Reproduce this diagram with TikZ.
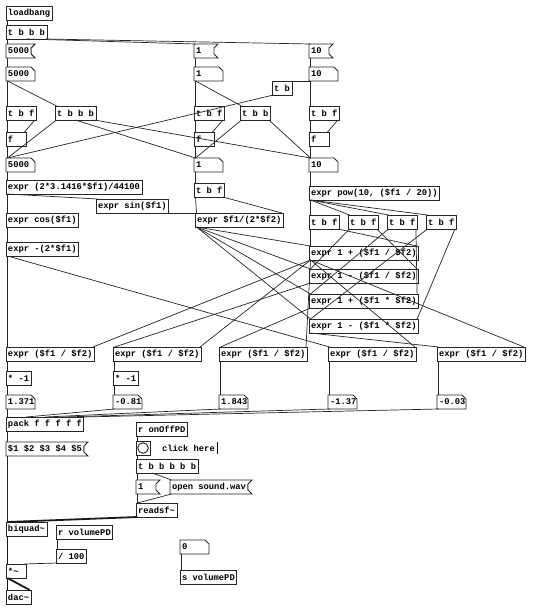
\documentclass[tikz,border=0pt]{standalone}
\usepackage{fontspec}
\newfontfamily\pdfont{Liberation Mono}
\usetikzlibrary{calc}
\tikzset{
 base/.style={anchor=north west, font=\pdfont\bfseries\fontsize{8.8}{10}\selectfont, inner xsep=2pt, inner ysep=0pt, minimum height=14pt, minimum width=20pt, outer sep=0pt},
 obj/.style={base, draw=black!85, line width=0.9pt},
 short/.style={execute at begin node={\hbox to 16pt\bgroup}, execute at end node={\hfil\egroup}},
 atom/.style={base, execute at begin node={\hbox to 25pt\bgroup}, execute at end node={\hss\egroup}},
 outline/.style={draw=black!85, line width=0.9pt},
 wire/.style={draw=black!85, line width=0.7pt},
 sig/.style={draw=black!90, line width=1.8pt},
}
\newcommand\pdmsg[4][]{\node[base,#1] (#2) at (#3) {#4};
 \draw[outline] (#2.north west) -- ([xshift=4pt]#2.north east) -- ([yshift=-4pt]#2.north east) -- ([yshift=4pt]#2.south east) -- ([xshift=4pt]#2.south east) -- (#2.south west) -- cycle;}
\newcommand\pdatom[3]{\node[atom] (#1) at (#2) {#3};
 \draw[outline] (#1.north west) -- ([xshift=-4pt]#1.north east) -- ([yshift=-4pt]#1.north east) -- (#1.south east) -- (#1.south west) -- cycle;}
\newcommand\pw[5][wire]{\draw[#1] ($([xshift=1.5pt]#2.south west)!#3!([xshift=-1.5pt]#2.south east)$) -- ($([xshift=1.5pt]#4.north west)!#5!([xshift=-1.5pt]#4.north east)$);}
\begin{document}
\begin{tikzpicture}[x=1pt,y=-1pt]
\useasboundingbox[fill=white] (0,0) rectangle (540,608);
% top section
\node[obj] (lb) at (6,6) {loadbang};
\node[obj] (tbbbA) at (6,25) {t b b b};
\pdmsg{mA}{6,44}{5000}
\pdmsg[short]{mB}{194,44}{1}
\pdmsg[short]{mC}{309,44}{10}
\pdatom{nA}{6,67}{5000}
\pdatom{nB}{194,67}{1}
\pdatom{nC}{309,67}{10}
\node[obj,short] (tb) at (272,81) {t b};
\node[obj] (tbfA) at (6,106) {t b f};
\node[obj] (tbbbB) at (55,106) {t b b b};
\node[obj] (tbfB) at (194,106) {t b f};
\node[obj] (tbb) at (240,106) {t b b};
\node[obj] (tbfC) at (309,106) {t b f};
\node[obj,short] (fA) at (6,132) {f};
\node[obj,short] (fB) at (194,132) {f};
\node[obj,short] (fC) at (309,132) {f};
\pdatom{oA}{6,158}{5000}
\pdatom{oB}{194,158}{1}
\pdatom{oC}{309,158}{10}
% coefficient section
\node[obj] (ew) at (6,180) {expr (2*3.1416*\$f1)/44100};
\node[obj] (tbfD) at (194,183) {t b f};
\node[obj] (epow) at (309,186) {expr pow(10, (\$f1 / 20))};
\node[obj] (esin) at (96,199) {expr sin(\$f1)};
\node[obj] (ecos) at (6,213) {expr cos(\$f1)};
\node[obj] (ealpha) at (195,213) {expr \$f1/(2*\$f2)};
\node[obj] (tA) at (309,215) {t b f};
\node[obj] (tB) at (348,215) {t b f};
\node[obj] (tC) at (387,215) {t b f};
\node[obj] (tD) at (426,215) {t b f};
\node[obj] (eneg) at (6,242) {expr -(2*\$f1)};
\node[obj] (eA) at (309,246) {expr 1 + (\$f1 / \$f2)};
\node[obj] (eB) at (309,269) {expr 1 - (\$f1 / \$f2)};
\node[obj] (eC) at (309,294) {expr 1 + (\$f1 * \$f2)};
\node[obj] (eD) at (309,319) {expr 1 - (\$f1 * \$f2)};
\node[obj] (dA) at (6,347) {expr (\$f1 / \$f2)};
\node[obj] (dB) at (113,347) {expr (\$f1 / \$f2)};
\node[obj] (dC) at (219,347) {expr (\$f1 / \$f2)};
\node[obj] (dD) at (328,347) {expr (\$f1 / \$f2)};
\node[obj] (dE) at (437,347) {expr (\$f1 / \$f2)};
\node[obj] (mulA) at (6,371) {* -1};
\node[obj] (mulB) at (113,371) {* -1};
\pdatom{vA}{6,395}{1.371}
\pdatom{vB}{113,395}{-0.81}
\pdatom{vC}{219,395}{1.843}
\pdatom{vD}{328,395}{-1.37}
\pdatom{vE}{437,395}{-0.03}
% audio section
\node[obj] (pack) at (6,417) {pack f f f f f};
\pdmsg{plist}{6,442}{\$1 \$2 \$3 \$4 \$5}
\node[obj] (ronoff) at (136,422) {r onOffPD};
\node[obj, minimum width=14pt, minimum height=14pt, inner sep=0pt] (bng) at (136,441) {};
\draw[outline] (bng.center) circle (5.3pt);
\node[base, anchor=west] (cmt) at (160,448) {click here};
\coordinate (barA) at (217,442); \coordinate (barB) at (217,454);
\draw[line width=0.8pt] (barA) -- (barB);
\node[obj] (tbsix) at (136,459) {t b b b b b};
\pdmsg[short]{mone}{136,480}{1}
\pdmsg{mopen}{170,480}{open sound.wav}
\node[obj] (readsf) at (136,503) {readsf\textasciitilde};
\node[obj] (biquad) at (6,522) {biquad\textasciitilde};
\node[obj] (rvol) at (56,525) {r volumePD};
\node[obj] (div) at (56,549) {/ 100};
\pdatom{nzero}{180,540}{0}
\node[obj] (svol) at (180,570) {s volumePD};
\node[obj,short] (mulsig) at (6,564) {*\textasciitilde};
\node[obj] (dac) at (6,590) {dac\textasciitilde};
% wires
\pw{lb}{0}{tbbbA}{0}
\pw{tbbbA}{0}{mA}{0}
\pw{tbbbA}{.5}{mB}{0}
\pw{tbbbA}{1}{mC}{0}
\pw{mA}{0}{nA}{0}
\pw{mB}{0}{nB}{0}
\pw{mC}{0}{nC}{0}
\pw{nA}{0}{tbfA}{0}
\pw{nA}{0}{tbbbB}{0}
\pw{nB}{0}{tbfB}{0}
\pw{nB}{0}{tbb}{0}
\pw{nC}{0}{tbfC}{0}
\pw{nC}{0}{tb}{0}
\pw{tb}{0}{oA}{0}
\pw{tbfA}{0}{fA}{0}
\pw{tbfA}{1}{fA}{1}
\pw{tbfB}{0}{fB}{0}
\pw{tbfB}{1}{fB}{1}
\pw{tbfC}{0}{fC}{0}
\pw{tbfC}{1}{fC}{1}
\pw{fA}{0}{oA}{0}
\pw{fB}{0}{oB}{0}
\pw{fC}{0}{oC}{0}
\pw{tbbbB}{0}{oA}{0}
\pw{tbbbB}{.5}{oB}{0}
\pw{tbbbB}{1}{oC}{0}
\pw{tbb}{0}{oB}{0}
\pw{tbb}{1}{oC}{0}
\pw{oA}{0}{ew}{0}
\pw{oB}{0}{tbfD}{0}
\pw{oC}{0}{epow}{0}
\pw{ew}{0}{ecos}{0}
\pw{ew}{0}{esin}{0}
\pw{ecos}{0}{eneg}{0}
\pw{esin}{0}{ealpha}{0}
\pw{tbfD}{0}{ealpha}{0}
\pw{tbfD}{1}{ealpha}{1}
\pw{eneg}{0}{dA}{0}
\pw{eneg}{0}{dD}{0}
\pw{epow}{0}{tA}{0}
\pw{epow}{0}{tB}{0}
\pw{epow}{0}{tC}{0}
\pw{epow}{0}{tD}{0}
\pw{tA}{0}{eA}{0}
\pw{tA}{1}{eA}{1}
\pw{tB}{0}{eB}{0}
\pw{tB}{1}{eB}{1}
\pw{tC}{0}{eC}{0}
\pw{tC}{1}{eC}{1}
\pw{tD}{0}{eD}{0}
\pw{tD}{1}{eD}{1}
\pw{ealpha}{0}{eA}{0}
\pw{ealpha}{0}{eB}{0}
\pw{ealpha}{0}{eC}{0}
\pw{ealpha}{0}{eD}{0}
\pw{eA}{0}{dA}{1}
\pw{eA}{0}{dB}{1}
\pw{eA}{0}{dC}{1}
\pw{eA}{0}{dD}{1}
\pw{eA}{0}{dE}{1}
\pw{eB}{0}{dB}{0}
\pw{eC}{0}{dC}{0}
\pw{eD}{0}{dE}{0}
\pw{dA}{0}{mulA}{0}
\pw{dB}{0}{mulB}{0}
\pw{mulA}{0}{vA}{0}
\pw{mulB}{0}{vB}{0}
\pw{dC}{0}{vC}{0}
\pw{dD}{0}{vD}{0}
\pw{dE}{0}{vE}{0}
\pw{vA}{0}{pack}{0}
\pw{vB}{0}{pack}{.25}
\pw{vC}{0}{pack}{.5}
\pw{vD}{0}{pack}{.75}
\pw{vE}{0}{pack}{1}
\pw{pack}{0}{plist}{0}
\pw{plist}{0}{biquad}{0}
\pw{ronoff}{0}{bng}{0}
\pw{bng}{0}{tbsix}{0}
\pw{tbsix}{0}{mone}{0}
\pw{tbsix}{.25}{mopen}{0}
\pw{mone}{0}{readsf}{0}
\pw{mopen}{0}{readsf}{0}
\pw[sig]{readsf}{0}{biquad}{0}
\pw[sig]{biquad}{0}{mulsig}{0}
\pw{rvol}{0}{div}{0}
\draw[wire] ([xshift=1.5pt]div.south west) -- ([xshift=-1.5pt]mulsig.north east);
\pw[sig]{mulsig}{0}{dac}{0}
\pw[sig]{mulsig}{0}{dac}{1}
\pw{nzero}{0}{svol}{0}
\end{tikzpicture}
\end{document}
